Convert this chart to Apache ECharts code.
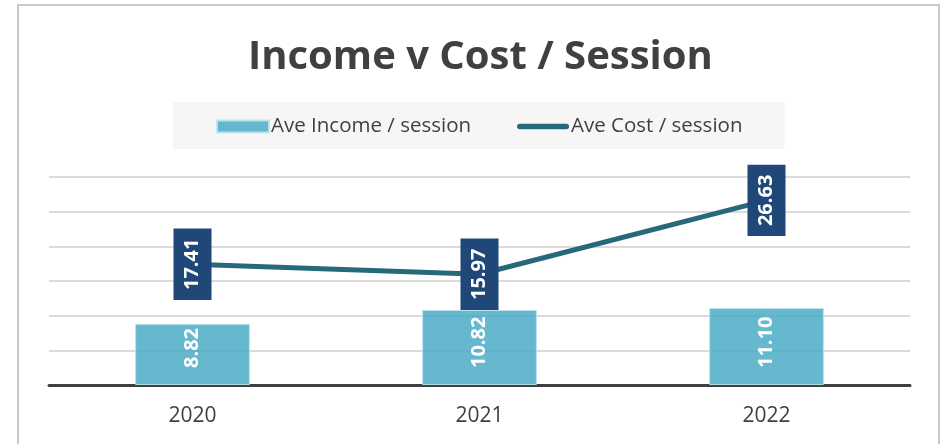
<!DOCTYPE html>
<html>
<head>
    <meta charset="utf-8">
    <title>Income v Cost / Session</title>
    <script src="https://cdn.jsdelivr.net/npm/echarts@6/dist/echarts.min.js"></script>
    <style>
        html, body { margin: 0; padding: 0; background: #fff; }
        #main { width: 944px; height: 444px; }
    </style>
</head>
<body>
<div id="main"></div>
<script>
// chart data
const years = ['2020', '2021', '2022'];
const incomePerSession = [8.82, 10.82, 11.10];
const costPerSession = [17.41, 15.97, 26.63];

const fontFamily = '"Open Sans", "Liberation Sans", sans-serif';

const option = {
    animation: false,
    textStyle: { fontFamily: fontFamily },
    title: {
        text: 'Income v Cost / Session',
        left: 243,
        top: 33,
        textStyle: { fontSize: 40, fontWeight: 'bold', color: '#404040', fontFamily: fontFamily }
    },
    legend: {
        left: 173,
        top: 102,
        padding: [14, 42, 12, 43],
        itemGap: 46,
        itemWidth: 52,
        itemHeight: 12,
        backgroundColor: '#f6f6f6',
        textStyle: { fontSize: 20.5, color: '#404040', fontFamily: fontFamily, padding: [0, 0, 0, -3] },
        data: [
            { name: 'Ave Income / session', icon: 'rect' },
            {
                name: 'Ave Cost / session',
                icon: 'path://M3,0 L53,0 A3,3 0 0 1 53,6 L3,6 A3,3 0 0 1 3,0 Z',
                itemStyle: { color: '#27697a' }
            }
        ]
    },
    graphic: [{
        type: 'rect',
        shape: { x: 18, y: 5, width: 921, height: 460 },
        style: { fill: 'none', stroke: '#c9c9c9', lineWidth: 2 },
        silent: true
    }],
    grid: { left: 49, right: 34, top: 177, bottom: 59 },
    xAxis: {
        type: 'category',
        data: years,
        axisTick: { show: false },
        axisLine: { lineStyle: { color: '#404040', width: 3 } },
        axisLabel: { fontSize: 21, color: '#404040', fontFamily: fontFamily, margin: 21 }
    },
    yAxis: {
        type: 'value',
        min: 0,
        max: 30,
        interval: 5,
        axisLabel: { show: false },
        axisLine: { show: false },
        axisTick: { show: false },
        splitLine: { lineStyle: { color: '#cfcfcf', width: 1.5 } }
    },
    series: [
        {
            name: 'Ave Income / session',
            type: 'bar',
            data: incomePerSession,
            barWidth: '40%',
            itemStyle: {
                color: 'rgba(75, 172, 198, 0.85)',
                borderColor: 'rgba(190, 228, 238, 0.9)',
                borderWidth: 1
            },
            label: {
                show: true,
                position: 'insideBottom',
                distance: 17,
                rotate: 90,
                align: 'left',
                verticalAlign: 'middle',
                color: '#ffffff',
                fontFamily: fontFamily,
                fontSize: 20,
                fontWeight: 'bold',
                formatter: p => p.value.toFixed(2)
            }
        },
        {
            name: 'Ave Cost / session',
            type: 'line',
            data: costPerSession,
            symbol: 'circle',
            symbolSize: 1,
            showSymbol: true,
            lineStyle: { color: '#27697a', width: 5, cap: 'round' },
            itemStyle: { color: '#27697a' },
            label: {
                show: true,
                position: 'inside',
                rotate: 90,
                align: 'center',
                verticalAlign: 'middle',
                color: '#ffffff',
                fontFamily: fontFamily,
                fontSize: 20,
                fontWeight: 'bold',
                lineHeight: 20,
                backgroundColor: '#1f4878',
                padding: [9, 10],
                formatter: p => p.value.toFixed(2)
            }
        }
    ]
};

const chart = echarts.init(document.getElementById('main'));
chart.setOption(option);
window.addEventListener('resize', () => chart.resize());
</script>
</body>
</html>
